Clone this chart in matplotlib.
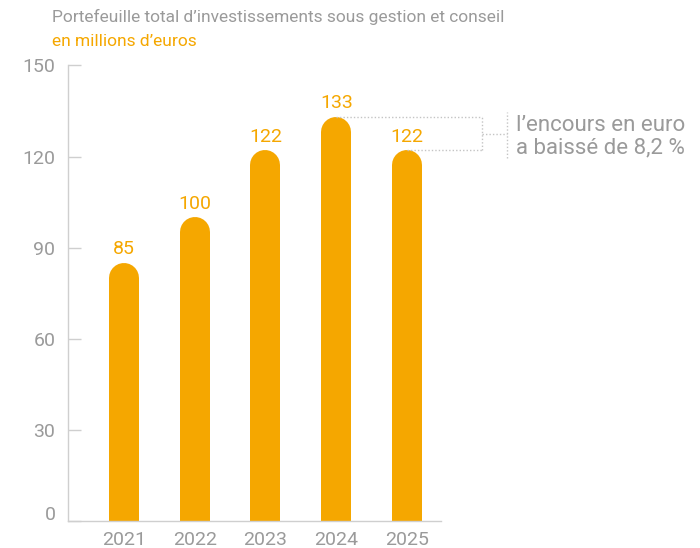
import numpy as np
import matplotlib.pyplot as plt
from matplotlib.transforms import ScaledTranslation

plt.rcParams['font.family'] = ['Roboto', 'DejaVu Sans']

# data
years = ['2021', '2022', '2023', '2024', '2025']
values = [85, 100, 122, 133, 122]
yticks = [0, 30, 60, 90, 120, 150]

orange = '#F5A700'
grey = '#9a9a9a'
light = '#cfcfcf'

fig = plt.figure(figsize=(7, 5.48), dpi=100)
ax = fig.add_axes([68/700, 27/548, 373/700, 455.6/548])
ax.set_ylim(0, 150)
ax.set_xlim(-0.79, 4.48)

# rounded bars: thick lines with round caps, bottom cap clipped by the axes
bar_px = 30
px_per_unit = ax.get_position().height * fig.get_figheight() * fig.dpi / 150
r = bar_px / 2 / px_per_unit
x = np.arange(len(years))
for xi, v in zip(x, values):
    ax.plot([xi, xi], [-r, v - r], color=orange, lw=bar_px * 72 / fig.dpi,
            solid_capstyle='round')
    ax.text(xi, v + 1.5, str(v), ha='center', va='bottom', fontsize=14, color=orange)

ax.set_xticks(x)
ax.set_xticklabels(years)
ax.set_yticks(yticks)
ax.tick_params(axis='x', length=0, pad=7, labelsize=14, labelcolor=grey)
ax.tick_params(axis='y', direction='in', length=9.5, width=1, color=light,
               pad=9, labelsize=14, labelcolor=grey)
for s in ['top', 'right']:
    ax.spines[s].set_visible(False)
for s in ['left', 'bottom']:
    ax.spines[s].set_color(light)
    ax.spines[s].set_linewidth(1)

# the "0" label sits a bit above the baseline
lab0 = ax.get_yticklabels()[0]
lab0.set_transform(lab0.get_transform() + ScaledTranslation(0, 5.5/72, fig.dpi_scale_trans))

# annotation bracket between 2024 and 2025
dot = dict(color='#c4c4c4', lw=1, ls=(0, (1, 1.5)), clip_on=False)
bx = 5.06
cx = 5.41
ax.plot([3, bx], [values[3], values[3]], **dot)
ax.plot([4, bx], [values[4], values[4]], **dot)
ax.plot([bx, bx], [values[4], values[3]], **dot)
mid = (values[3] + values[4]) / 2
ax.plot([bx, cx], [mid, mid], **dot)
ax.plot([cx, cx], [mid - 8, mid + 7], **dot)
ax.text(5.54, mid - 1.0, "l\u2019encours en euro\na baiss\u00e9 de 8,2 %", ha='left',
        va='center', fontsize=16, color=grey, linespacing=1.12, clip_on=False)

fig.text(52/700, 1 - 17/548, "Portefeuille total d\u2019investissements sous gestion et conseil",
         ha='left', va='center', fontsize=12.5, color=grey)
fig.text(52/700, 1 - 42/548, "en millions d\u2019euros",
         ha='left', va='center', fontsize=12.5, color=orange)

fig.savefig('out.png', dpi=100)
